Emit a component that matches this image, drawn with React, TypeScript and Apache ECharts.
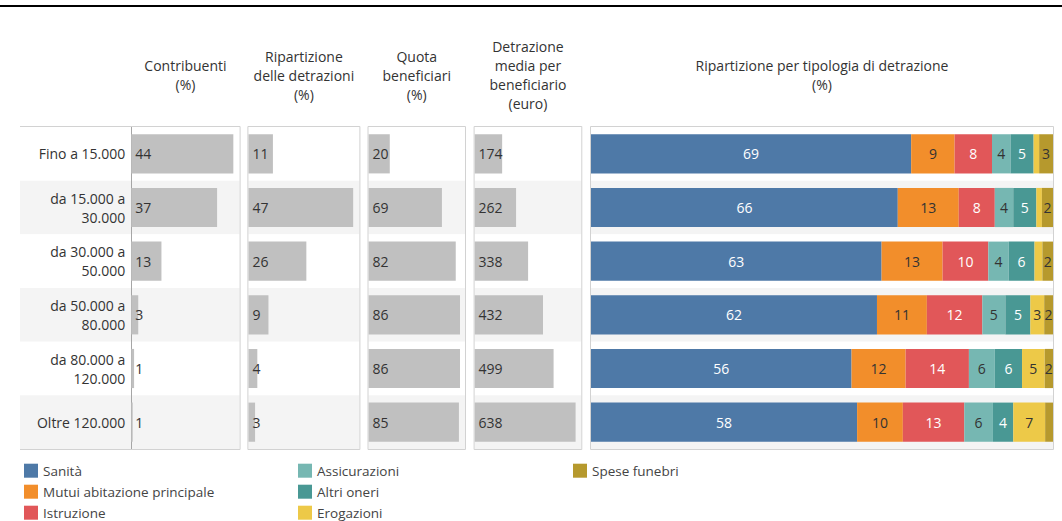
import React, { useEffect, useRef } from "react";
import * as echarts from "echarts";

// ---------- DATA ----------
const categories = [
  "Fino a 15.000",
  "da 15.000 a\n30.000",
  "da 30.000 a\n50.000",
  "da 50.000 a\n80.000",
  "da 80.000 a\n120.000",
  "Oltre 120.000",
];
const contribuenti = [44, 37, 13, 3, 1.2, 0.6];
const ripartizioneDetrazioni = [11, 47, 26, 9, 4, 3];
const quotaBeneficiari = [20, 69, 82, 86, 86, 85];
const detrazioneMedia = [174, 262, 338, 432, 499, 638];

const tipologie = [
  "Sanità",
  "Mutui abitazione principale",
  "Istruzione",
  "Assicurazioni",
  "Altri oneri",
  "Erogazioni",
  "Spese funebri",
];
const sanita = [69.3, 66.4, 62.9, 61.9, 56.4, 57.6];
const mutui = [9.4, 13.2, 13.2, 10.8, 11.7, 9.9];
const istruzione = [8.1, 7.8, 9.9, 12.0, 13.7, 13.3];
const assicurazioni = [4.0, 4.0, 4.4, 5.0, 5.6, 6.2];
const altriOneri = [5.0, 5.0, 5.6, 5.4, 5.9, 4.4];
const erogazioni = [1.2, 1.2, 1.7, 3.0, 4.9, 6.9];
const speseFunebri = [3.0, 2.4, 2.3, 1.9, 1.8, 1.7];

const headers = [
  "Contribuenti\n(%)",
  "Ripartizione\ndelle detrazioni\n(%)",
  "Quota\nbeneficiari\n(%)",
  "Detrazione\nmedia per\nbeneficiario\n(euro)",
  "Ripartizione per tipologia di detrazione\n(%)",
];

// ---------- STYLE / LAYOUT ----------
const FONT = "'Open Sans', sans-serif";
const FS = 14;
const TEXT = "#333333";
const BAND = ["#ffffff", "#f4f4f4"];
const BORDER = "#d2d2d2";
const GRAY_BAR = "#c0c0c0";
const COLORS = ["#4e79a7", "#f28e2b", "#e15759", "#76b7b2", "#499894", "#edc948", "#b6992d"];
const LABEL_COLORS = ["#ffffff", "#333333", "#ffffff", "#333333", "#ffffff", "#333333", "#333333"];

const TOP = 127;
const HEIGHT = 322;
const panels = [
  { left: 20, width: 111.3, max: 1 }, // row-label area
  { left: 131.3, width: 108.3, max: 46.7 },
  { left: 248.4, width: 111, max: 49.8 },
  { left: 368.5, width: 96.5, max: 90.7 },
  { left: 474.6, width: 106.7, max: 674 },
  { left: 591, width: 462, max: 100 },
];

export default function App() {
  const ref = useRef<HTMLDivElement>(null);

  useEffect(() => {
    if (!ref.current) return;
    const chart = echarts.init(ref.current, null, { renderer: "svg" });

    const grids = panels.map((p) => ({
      left: p.left,
      top: TOP,
      width: p.width,
      height: HEIGHT,
      containLabel: false,
    }));

    const xAxes = panels.map((p, i) => ({
      type: "value",
      gridIndex: i,
      min: 0,
      max: p.max,
      show: false,
    }));

    const yAxes = panels.map((p, i) => ({
      type: "category",
      gridIndex: i,
      data: categories,
      inverse: true,
      axisLine: { show: i === 1, lineStyle: { color: "#a6a6a6", width: 1 } },
      axisTick: { show: false },
      axisLabel: {
        show: i === 1,
        margin: 6,
        fontSize: FS,
        lineHeight: 19,
        color: TEXT,
        fontFamily: FONT,
        align: "right",
      },
      splitLine: { show: false },
      splitArea: { show: true, areaStyle: { color: BAND } },
    }));

    const grayData = [contribuenti, ripartizioneDetrazioni, quotaBeneficiari, detrazioneMedia];
    const graySeries = grayData.map((d, k) => ({
      type: "bar",
      name: "g" + k,
      xAxisIndex: k + 1,
      yAxisIndex: k + 1,
      data: d,
      barWidth: "73%",
      itemStyle: { color: GRAY_BAR },
      label: {
        show: true,
        position: "insideLeft",
        distance: 4,
        formatter: (p: any) => String(Math.round(p.value)),
        color: TEXT,
        fontSize: FS,
        fontFamily: FONT,
      },
      silent: true,
    }));

    const stackData = [sanita, mutui, istruzione, assicurazioni, altriOneri, erogazioni, speseFunebri];
    const stackSeries = stackData.map((d, k) => ({
      type: "bar",
      name: tipologie[k],
      stack: "tipologia",
      xAxisIndex: 5,
      yAxisIndex: 5,
      data: d,
      barWidth: "73%",
      itemStyle: { color: COLORS[k] },
      label: {
        show: true,
        position: "inside",
        formatter: (p: any) => (p.value >= 1.75 ? String(Math.round(p.value)) : ""),
        color: LABEL_COLORS[k],
        fontSize: FS,
        fontFamily: FONT,
      },
      silent: true,
    }));

    const headerCenters = [1, 2, 3, 4, 5].map((i) => panels[i].left + panels[i].width / 2);
    const headerTexts = headers.map((h, i) => ({
      type: "text",
      x: headerCenters[i],
      y: 75,
      silent: true,
      style: {
        text: h,
        align: "center",
        verticalAlign: "middle",
        textAlign: "center",
        textVerticalAlign: "middle",
        fontSize: FS,
        lineHeight: 19,
        fontFamily: FONT,
        fill: TEXT,
      },
    }));

    const p1 = panels[1];
    const p5 = panels[5];
    const borderEls: any[] = [
      {
        type: "polyline",
        z: 20,
        silent: true,
        shape: {
          points: [
            [panels[0].left, TOP - 0.5],
            [p1.left + p1.width + 0.5, TOP - 0.5],
            [p1.left + p1.width + 0.5, TOP + HEIGHT + 0.5],
            [panels[0].left, TOP + HEIGHT + 0.5],
          ],
        },
        style: { stroke: BORDER, lineWidth: 1, fill: null },
      },
      ...[2, 3, 4].map((i) => ({
        type: "rect",
        z: 20,
        silent: true,
        shape: { x: panels[i].left - 0.5, y: TOP - 0.5, width: panels[i].width + 1, height: HEIGHT + 1 },
        style: { stroke: BORDER, lineWidth: 1, fill: null },
      })),
      {
        type: "rect",
        z: 20,
        silent: true,
        shape: { x: p5.left - 0.5, y: TOP - 0.5, width: p5.width + 1, height: HEIGHT + 1 },
        style: { stroke: BORDER, lineWidth: 1, fill: null },
      },
      {
        type: "line",
        silent: true,
        shape: { x1: 0, y1: 6, x2: 1062, y2: 6 },
        style: { stroke: "#000000", lineWidth: 2 },
      },
    ];

    const legendBase = {
      orient: "vertical",
      top: 463.7,
      height: 60,
      padding: 0,
      itemWidth: 14,
      itemHeight: 14,
      itemGap: 7,
      icon: "rect",
      selectedMode: false,
      textStyle: { fontSize: 13.5, lineHeight: 14, color: "#444444", fontFamily: FONT },
    };

    chart.setOption({
      animation: false,
      backgroundColor: "#ffffff",
      grid: grids,
      xAxis: xAxes,
      yAxis: yAxes,
      legend: [
        { ...legendBase, left: 24, data: tipologie.slice(0, 3) },
        { ...legendBase, left: 298, data: tipologie.slice(3, 6) },
        { ...legendBase, left: 573, data: tipologie.slice(6) },
      ],
      graphic: [...borderEls, ...headerTexts],
      series: [...graySeries, ...stackSeries],
    });

    return () => chart.dispose();
  }, []);

  return (
    <div
      ref={ref}
      style={{ position: "fixed", left: 0, top: 0, width: 1062, height: 521 }}
    />
  );
}
